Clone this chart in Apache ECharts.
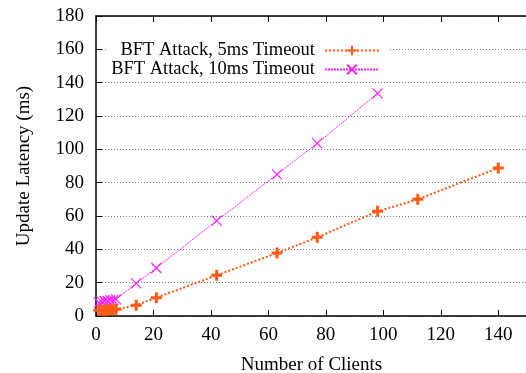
<!DOCTYPE html>
<html>
<head>
<meta charset="utf-8">
<script src="https://cdn.jsdelivr.net/npm/echarts@6/dist/echarts.min.js"></script>
<style>
html,body{margin:0;padding:0;background:#fff;}
#chart{width:526px;height:373px;}
</style>
</head>
<body>
<div id="chart"></div>
<script>
const seriesNames = ['BFT Attack, 5ms Timeout', 'BFT Attack, 10ms Timeout'];
const clients5ms = [1, 2, 3, 4, 5, 6, 7, 14, 21, 42, 63, 77, 98, 112, 140];
const latency5ms = [3.5, 3.5, 3.5, 3.6, 3.7, 3.8, 4.0, 6.5, 11, 24.4, 37.8, 47.2, 62.8, 70, 88.8];
const clients10ms = [1, 2, 3, 4, 5, 6, 7, 14, 21, 42, 63, 77, 98];
const latency10ms = [8, 8.5, 9, 9, 9.5, 9.5, 10, 19.6, 28.8, 57.2, 85, 103.6, 133.6];
const xTicks = [0, 20, 40, 60, 80, 100, 120, 140];
const yTicks = [0, 20, 40, 60, 80, 100, 120, 140, 160, 180];
const xTitle = 'Number of Clients';
const yTitle = 'Update Latency (ms)';

const FONT = 'Liberation Serif';
const FS = 19;
const ORANGE = '#ff5a14';
const MAGENTA = '#ff20ff';
const PLUS = 'path://M0,5L10,5M5,0L5,10';
const CROSS = 'path://M0,0L10,10M10,0L0,10';

const chart = echarts.init(document.getElementById('chart'), null, {renderer: 'canvas'});
const axisLine = {show: true, onZero: false, lineStyle: {color: '#000', width: 1.5}};
const pair = (xs, ys) => xs.map((x, i) => [x, ys[i]]);

chart.setOption({
  animation: false,
  backgroundColor: '#fff',
  grid: {left: 96, right: -1, top: 16, bottom: 57, containLabel: false, outerBoundsMode: 'none'},
  legend: {
    orient: 'vertical',
    align: 'right',
    right: 136,
    top: 39,
    itemWidth: 54,
    itemHeight: 12,
    itemGap: 0,
    padding: [2, 10, 0, 4],
    backgroundColor: '#fff',
    textStyle: {fontFamily: FONT, fontSize: 18.5, lineHeight: 19, color: '#000', padding: [0, 5, 0, 0]},
    data: seriesNames
  },
  xAxis: [{
    type: 'value', min: 0, max: 150, interval: 20, position: 'bottom',
    name: xTitle, nameLocation: 'middle', nameGap: 40,
    nameTextStyle: {fontFamily: FONT, fontSize: FS, color: '#000'},
    axisLine: axisLine,
    axisTick: {show: true, inside: true, length: 6, lineStyle: {color: '#000', width: 1}},
    axisLabel: {fontFamily: FONT, fontSize: FS, color: '#000', margin: 10,
      formatter: v => xTicks.includes(v) ? String(v) : ''},
    splitLine: {show: false}
  }, {
    type: 'value', min: 0, max: 150, interval: 20, position: 'top',
    axisLine: axisLine,
    axisTick: {show: true, inside: true, length: 6, lineStyle: {color: '#000', width: 1}},
    axisLabel: {show: false},
    splitLine: {show: false}
  }],
  yAxis: [{
    type: 'value', min: 0, max: 180, interval: 20, position: 'left',
    name: yTitle, nameLocation: 'middle', nameGap: 62, nameRotate: 90,
    nameTextStyle: {fontFamily: FONT, fontSize: FS, color: '#000'},
    axisLine: axisLine,
    axisTick: {show: true, inside: true, length: 6, lineStyle: {color: '#000', width: 1}},
    axisLabel: {fontFamily: FONT, fontSize: FS, color: '#000', margin: 12,
      formatter: v => yTicks.includes(v) ? String(v) : ''},
    splitLine: {show: true, lineStyle: {color: '#777', width: 1, type: [1, 2]}}
  }, {
    type: 'value', min: 0, max: 180, interval: 20, position: 'right',
    axisLine: {show: false},
    axisTick: {show: false},
    axisLabel: {show: false},
    splitLine: {show: false}
  }],
  series: [{
    name: seriesNames[0],
    type: 'line',
    data: pair(clients5ms, latency5ms),
    symbol: PLUS,
    symbolSize: 11,
    showAllSymbol: true,
    itemStyle: {color: ORANGE, borderColor: ORANGE, borderWidth: 3},
    lineStyle: {color: ORANGE, width: 2, type: [2, 2]},
    z: 3
  }, {
    name: seriesNames[1],
    type: 'line',
    data: pair(clients10ms, latency10ms),
    symbol: CROSS,
    symbolSize: 10,
    showAllSymbol: true,
    itemStyle: {color: MAGENTA, borderColor: MAGENTA, borderWidth: 1.2},
    lineStyle: {color: MAGENTA, width: 1, type: [2, 1]},
    z: 2
  }]
});
</script>
</body>
</html>
